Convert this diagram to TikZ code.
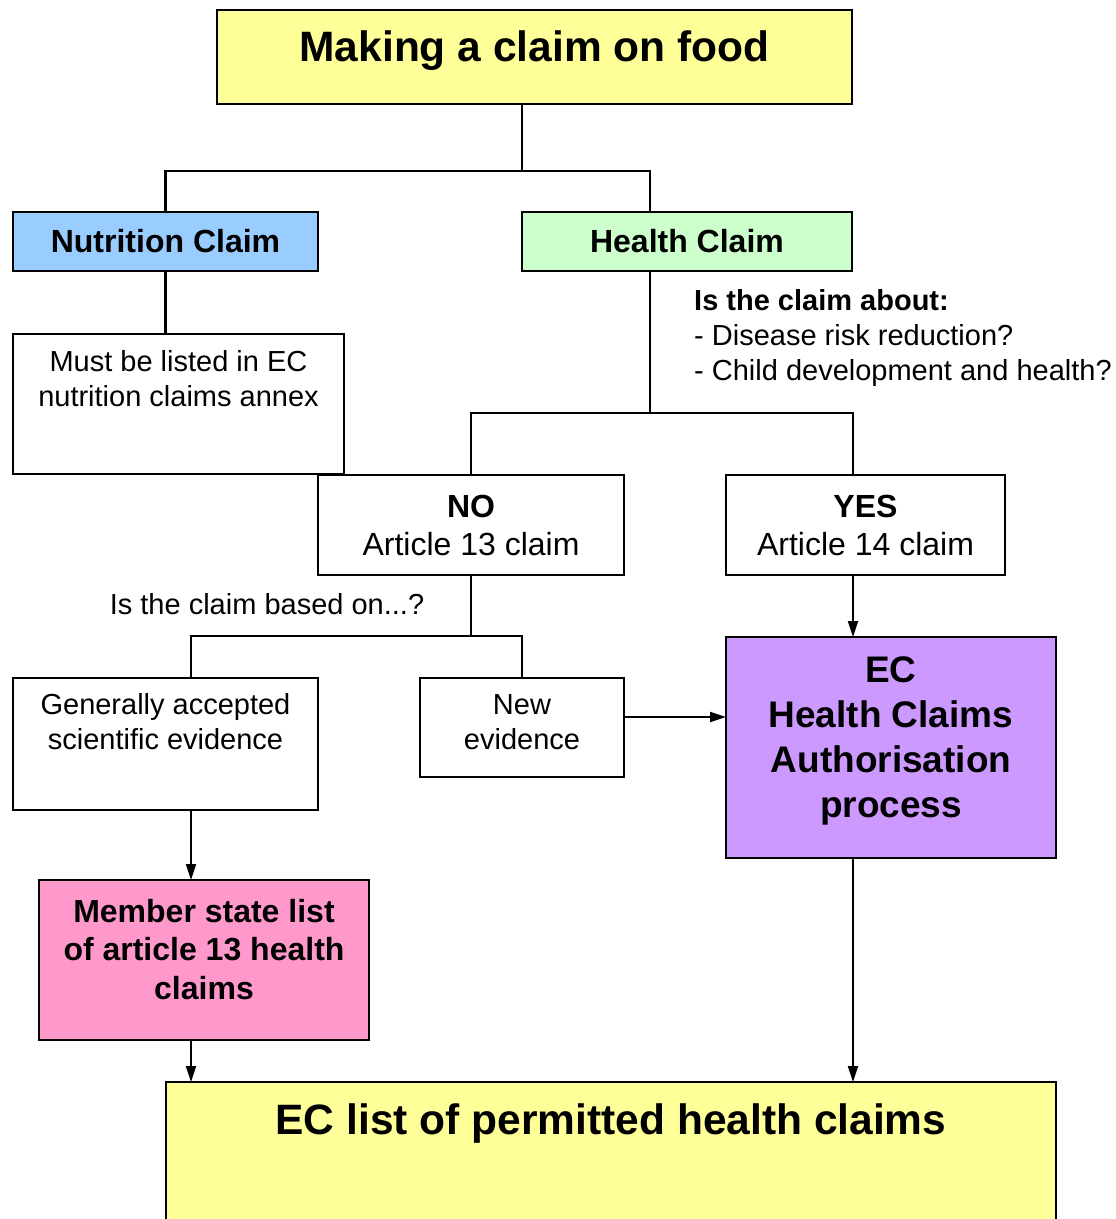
\documentclass[tikz,border=0pt]{standalone}
\usepackage{fontspec}
\setmainfont{Liberation Sans}
\usetikzlibrary{arrows.meta,positioning}
\definecolor{titleyellow}{RGB}{255,255,153}
\definecolor{nutriblue}{RGB}{153,204,255}
\definecolor{healthgreen}{RGB}{204,255,204}
\definecolor{authpurple}{RGB}{204,153,255}
\definecolor{memberpink}{RGB}{255,153,204}

\begin{document}
\begin{tikzpicture}[x=1pt,y=-1pt,
  box/.style={draw=black,line width=2.2pt,inner sep=0pt,outer sep=0pt,align=center},
  head/.style={font=\fontsize{42.5}{50}\selectfont\bfseries,inner sep=0pt},
  txt/.style={font=\fontsize{29}{35}\selectfont,align=center,inner sep=0pt},
  midtxt/.style={font=\fontsize{32}{38}\selectfont},
  boldtxt/.style={font=\fontsize{32}{38.5}\selectfont\bfseries,align=center,inner sep=0pt},
  authtxt/.style={font=\fontsize{37}{45.3}\selectfont\bfseries,align=center,inner sep=0pt},
  link/.style={line width=2.2pt},
  arr/.style={-{Triangle[length=16pt,width=10pt]},line width=2.2pt}
]
\useasboundingbox[fill=white] (0,0) rectangle (1116,1219);
% ---------------- top: claim type ----------------
\node[box,fill=titleyellow,minimum width=635pt,minimum height=94pt] (title) at (534.5,57) {};
\node[head,below=20pt of title.north] (title-txt) {Making a claim on food};
\node[box,fill=nutriblue,boldtxt,minimum width=305pt,minimum height=59pt] (nutri) at (165.5,241.5) {Nutrition Claim};
\node[box,fill=healthgreen,boldtxt,minimum width=330pt,minimum height=59pt] (health) at (687,241.5) {Health Claim};
\coordinate (top-j) at (522,171);
\draw[link] (title.south -| top-j) -- (top-j);
\draw[link] (nutri.north) |- (top-j) -| ([xshift=-37pt]health.north);
% ---------------- nutrition branch ----------------
\node[box,minimum width=331pt,minimum height=140pt] (annex) at (178.5,404) {};
\node[txt,below=16pt of annex.north] (annex-txt) {Must be listed in EC\\nutrition claims annex};
\draw[link] (nutri.south) -- (annex.north -| nutri.south);
% ---------------- health branch ----------------
\node[txt,anchor=north west,align=left] (about) at (694,289)
  {\textbf{Is the claim about:}\\- Disease risk reduction?\\- Child development and health?};
\node[box,midtxt,minimum width=306pt,minimum height=100pt] (art13) at (471,525) {\textbf{NO}\\Article 13 claim};
\node[box,midtxt,minimum width=279pt,minimum height=100pt] (art14) at (865.5,525) {\textbf{YES}\\Article 14 claim};
\coordinate (hc-j) at (650,413);
\coordinate (yes-col) at (853,413);
\draw[link] ([xshift=-37pt]health.south) -- (hc-j);
\draw[link] (art13.north) |- (hc-j) -- (yes-col) -- (art14.north -| yes-col);
% ---------------- article 13 evidence ----------------
\node[txt] (based) at (267,604) {Is the claim based on...?};
\node[box,minimum width=305pt,minimum height=132pt] (general) at (165.5,744) {};
\node[txt,below=15pt of general.north] (general-txt) {Generally accepted\\scientific evidence};
\node[box,minimum width=204pt,minimum height=99pt] (newev) at (522,727.5) {};
\node[txt,below=16pt of newev.north] (newev-txt) {New\\evidence};
\coordinate (gen-col) at (191,636);
\draw[link] (art13.south) -- (art13.south |- gen-col);
\draw[link] (general.north -| gen-col) |- (newev.north |- gen-col) -- (newev.north);
% ---------------- authorisation ----------------
\node[box,fill=authpurple,minimum width=330pt,minimum height=221pt] (auth) at (891,747.5) {};
\node[authtxt,below=19pt of auth.north] (auth-txt) {EC\\Health Claims\\Authorisation\\process};
\draw[arr] (art14.south -| yes-col) -- (auth.north -| yes-col);
\draw[arr] ([yshift=10.5pt]newev.east) -- ([yshift=10.5pt]newev.east -| auth.west);
% ---------------- lists ----------------
\node[box,fill=memberpink,minimum width=330pt,minimum height=160pt] (member) at (204,960) {};
\node[boldtxt,below=19pt of member.north] (member-txt) {Member state list\\of article 13 health\\claims};
\node[box,fill=titleyellow,minimum width=890pt,minimum height=168pt] (eclist) at (611,1166) {};
\node[head,below=21pt of eclist.north] (eclist-txt) {EC list of permitted health claims};
\draw[arr] (general.south -| gen-col) -- (member.north -| gen-col);
\draw[arr] (member.south -| gen-col) -- (eclist.north -| gen-col);
\draw[arr] (auth.south -| yes-col) -- (eclist.north -| yes-col);
\end{tikzpicture}
\end{document}
